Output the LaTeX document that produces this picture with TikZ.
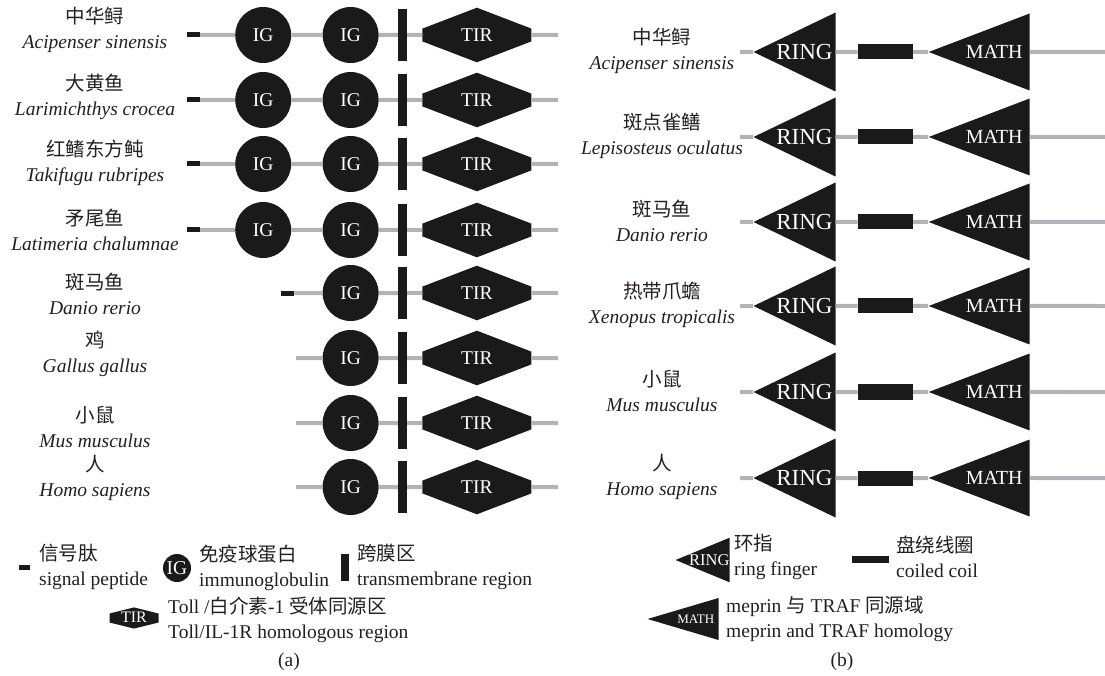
\documentclass[tikz,border=0pt]{standalone}
\usepackage{fontspec}
\setmainfont{Liberation Serif}
\newfontfamily\cjk{Noto Sans CJK SC}
\usetikzlibrary{positioning, shapes.geometric, shapes.symbols}

\definecolor{dom}{HTML}{1A1A1A}
\definecolor{bb}{HTML}{B3B3B6}
\definecolor{ink}{HTML}{231F20}
\newcommand{\zh}[1]{{\cjk #1}}

\tikzset{
  backbone/.style={draw=bb, line width=4pt},
  sigpep/.style={fill=dom, minimum width=13pt, minimum height=5pt, inner sep=0pt},
  igdom/.style={circle, fill=dom, text=white, minimum size=56pt, inner sep=0pt, font=\fontsize{19.5}{20}\selectfont},
  tmbar/.style={fill=dom, minimum width=9pt, minimum height=52pt, inner sep=0pt},
  tirdom/.style={signal, signal to=north and south, signal pointer angle=138, fill=dom, text=white, minimum width=109pt, minimum height=20pt, inner sep=0pt, font=\fontsize{19.5}{20}\selectfont},
  ringdom/.style={isosceles triangle, isosceles triangle stretches, shape border rotate=180, fill=dom, text=white, minimum width=79pt, minimum height=82pt, inner sep=0pt, font=\fontsize{23}{23}\selectfont},
  mathdom/.style={isosceles triangle, isosceles triangle stretches, shape border rotate=180, fill=dom, text=white, minimum width=77pt, minimum height=101pt, inner sep=0pt, font=\fontsize{20}{20}\selectfont},
  coil/.style={fill=dom, minimum width=55pt, minimum height=15pt, inner sep=0pt},
  species/.style={align=center, text=ink, inner sep=0pt, font=\fontsize{19.5}{25}\selectfont},
  legtext/.style={align=left, anchor=west, text=ink, inner sep=0pt, font=\fontsize{19.5}{25}\selectfont}
}

\begin{document}
\begin{tikzpicture}[x=1pt, y=-1pt]
\useasboundingbox (0,0) rectangle (1105,676);

% (a) rows with two IG domains
\foreach \y/\ly/\zhn/\lat in {35/30/中华鲟/Acipenser sinensis, 100/97/大黄鱼/Larimichthys crocea, 164/163/红鳍东方鲀/Takifugu rubripes, 230/230/矛尾鱼/Latimeria chalumnae}{
  \node[species] (sa\y) at (95,\ly) {\zh{\zhn}\\\textit{\lat}};
  \node[tmbar] (tm\y) at (402.5,\y) {};
  \node[igdom, left=19pt of tm\y] (igb\y) {IG};
  \node[igdom, left=31pt of igb\y] (iga\y) {IG};
  \node[sigpep, left=35pt of iga\y] (sp\y) {};
  \node[tirdom, right=15pt of tm\y] (tir\y) {TIR};
  \coordinate (e\y) at (558,\y);
  \draw[backbone] (sp\y) -- (iga\y) -- (igb\y) -- (tm\y) -- (tir\y) -- (e\y);
}

% (a) zebrafish
\node[species] (sa293) at (95,293.5) {\zh{斑马鱼}\\\textit{Danio rerio}};
\node[tmbar] (tm293) at (402.5,293) {};
\node[igdom, left=19pt of tm293] (igb293) {IG};
\node[sigpep, left=28pt of igb293] (sp293) {};
\node[tirdom, right=15pt of tm293] (tir293) {TIR};
\coordinate (e293) at (558,293);
\draw[backbone] (sp293) -- (igb293) -- (tm293) -- (tir293) -- (e293);

% (a) rows without signal peptide
\foreach \y/\ly/\zhn/\lat in {358/354/鸡/Gallus gallus, 423/426.5/小鼠/Mus musculus, 487/478/人/Homo sapiens}{
  \node[species] (sa\y) at (95,\ly) {\zh{\zhn}\\\textit{\lat}};
  \node[tmbar] (tm\y) at (402.5,\y) {};
  \node[igdom, left=19pt of tm\y] (igb\y) {IG};
  \node[tirdom, right=15pt of tm\y] (tir\y) {TIR};
  \coordinate (s\y) at (296,\y);
  \coordinate (e\y) at (558,\y);
  \draw[backbone] (s\y) -- (igb\y) -- (tm\y) -- (tir\y) -- (e\y);
}

% (b) rows
\foreach \y/\zhn/\lat in {52/中华鲟/Acipenser sinensis, 137/斑点雀鳝/Lepisosteus oculatus, 222/斑马鱼/Danio rerio, 306/热带爪蟾/Xenopus tropicalis, 392/小鼠/Mus musculus, 478/人/Homo sapiens}{
  \node[species] (sb\y) at (662,\y-1) {\zh{\zhn}\\\textit{\lat}};
  \coordinate (bs\y) at (740,\y);
  \node[ringdom, anchor=apex] (ring\y) at (753,\y) {RING};
  \node[coil, right=22pt of ring\y] (cc\y) {};
  \node[mathdom, right=15pt of cc\y] (math\y) {MATH};
  \coordinate (be\y) at (1105,\y);
  \draw[backbone] (bs\y) -- (ring\y) -- (cc\y) -- (math\y) -- (be\y);
}

% legend (a)
\node[sigpep, minimum width=11pt] (lsp) at (24,567) {};
\node[legtext] (lsptxt) at (39,567) {\zh{信号肽}\\signal peptide};
\node[igdom, minimum size=28pt] (lig) at (177,568) {IG};
\node[legtext] (ligtxt) at (199,568) {\zh{免疫球蛋白}\\immunoglobulin};
\node[tmbar, minimum width=8pt, minimum height=27pt] (ltm) at (345,567) {};
\node[legtext] (ltmtxt) at (357,567) {\zh{跨膜区}\\transmembrane region};
\node[tirdom, signal pointer angle=152, minimum width=49pt, minimum height=9pt, text height=9pt, text depth=0pt, font=\fontsize{16}{16}\selectfont] (ltir) at (134,618) {TIR};
\node[legtext] (ltirtxt) at (168,619.5) {Toll /\zh{白介素}-1 \zh{受体同源区}\\Toll/IL-1R homologous region};
\node[text=ink, font=\fontsize{19.5}{25}\selectfont] (capa) at (289,662) {(a)};

% legend (b)
\node[ringdom, anchor=apex, minimum width=44pt, minimum height=54pt, font=\fontsize{16.5}{16.5}\selectfont] (lring) at (675,560) {RING};
\node[legtext] (lringtxt) at (734,557) {\zh{环指}\\ring finger};
\node[coil, minimum width=37pt, minimum height=7pt] (lcc) at (870.5,559.5) {};
\node[legtext] (lcctxt) at (896,557) {\zh{盘绕线圈}\\coiled coil};
\node[mathdom, anchor=apex, minimum width=42pt, minimum height=71pt, font=\fontsize{13}{13}\selectfont] (lmath) at (647,619) {MATH};
\node[legtext] (lmathtxt) at (726,618.5) {meprin \zh{与} TRAF \zh{同源域}\\meprin and TRAF homology};
\node[text=ink, font=\fontsize{19.5}{25}\selectfont] (capb) at (842,662) {(b)};
\end{tikzpicture}
\end{document}
